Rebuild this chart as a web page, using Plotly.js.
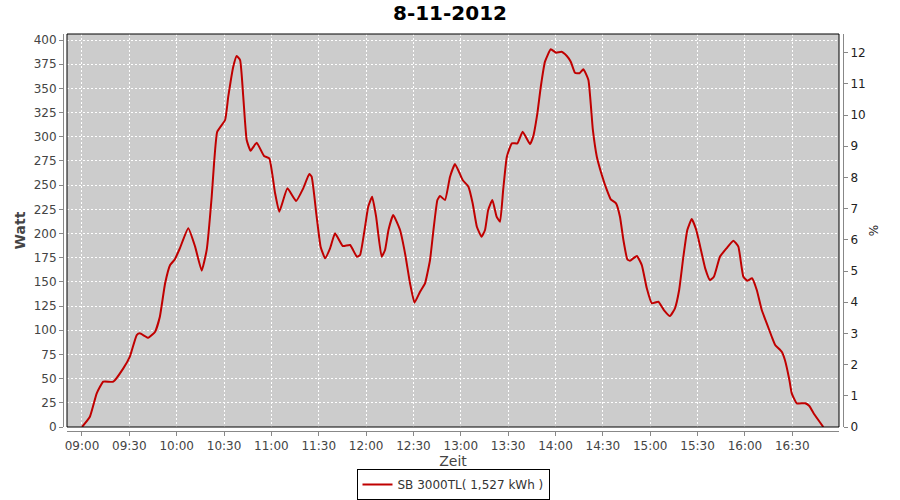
<!DOCTYPE html>
<html>
<head>
<meta charset="utf-8">
<script src="https://cdn.plot.ly/plotly-3.0.1.min.js"></script>
<style>html,body{margin:0;padding:0;background:#fff;}#chart{width:900px;height:500px;}</style>
</head>
<body>
<div id="chart"></div>
<script>
const day = '2012-11-08';
const chartTitle = '8-11-2012';
const seriesName = 'SB 3000TL( 1,527 kWh )';
const times = ['09:00:00','09:05:00','09:09:20','09:13:30','09:19:50','09:26:10','09:30:20','09:34:40','09:36:40','09:42:00',
'09:46:20','09:49:20','09:52:40','09:55:50','09:58:50','10:02:00','10:07:20','10:11:40','10:15:50','10:19:00',
'10:22:10','10:23:40','10:25:40','10:30:40','10:32:40','10:35:50','10:38:00','10:40:10','10:42:10','10:44:20',
'10:46:50','10:50:40','10:55:20','10:58:40','11:02:20','11:05:00','11:10:10','11:15:40','11:20:10','11:24:00',
'11:25:30','11:28:40','11:31:10','11:34:00','11:37:10','11:40:20','11:45:10','11:49:50','11:54:10','11:56:10',
'11:59:20','12:01:20','12:03:50','12:06:20','12:09:50','12:12:00','12:14:10','12:17:10','12:21:30','12:24:40',
'12:27:50','12:30:40','12:34:10','12:37:20','12:40:30','12:42:40','12:45:10','12:46:50','12:50:00','12:53:10',
'12:56:20','13:01:10','13:04:50','13:07:30','13:10:10','13:13:10','13:15:20','13:17:20','13:20:00','13:22:40',
'13:24:50','13:26:50','13:29:10','13:32:20','13:35:50','13:39:10','13:43:50','13:45:50','13:48:30','13:50:40',
'13:53:20','13:57:00','14:00:20','14:03:50','14:07:10','14:09:40','14:12:20','14:15:10','14:17:40','14:20:50',
'14:23:40','14:26:10','14:29:20','14:32:30','14:35:00','14:38:20','14:40:50','14:43:00','14:45:30','14:47:10',
'14:51:30','14:54:40','14:57:50','15:01:00','15:05:10','15:08:40','15:12:30','15:15:40','15:18:20','15:21:00',
'15:23:30','15:26:20','15:29:10','15:31:40','15:34:50','15:37:50','15:40:20','15:44:10','15:48:20','15:52:40',
'15:55:50','15:59:00','16:01:30','16:04:30','16:07:30','16:10:40','16:13:50','16:17:00','16:19:10','16:23:20',
'16:25:20','16:28:10','16:29:40','16:32:50','16:38:10','16:40:50','16:43:20','16:46:30','16:49:40'];
const watt = [0,10.6,34.8,46.8,46.8,60.6,72.7,95,96.8,92.3,
98.5,114,148.5,167.4,173.3,184.7,205.4,186.4,161.6,183,
238,272.6,305.2,317.3,341.4,372.4,383.5,379.3,341.4,296.6,
285.6,293.9,280.1,277.7,241.6,222.5,246.7,233.6,246.7,261.5,
258.7,217.4,186.4,174.4,184.7,200.2,187.1,188.1,176,177.8,
207,227.7,238,217.4,176,183,203.6,219.1,203.6,179.5,
148.5,128.5,139.8,148.5,172.6,203.6,234.6,238.8,234.6,258.7,
271.8,255.3,248.4,231.2,207,196.7,203.6,224.3,234.6,217.4,
212.2,245,279.4,293.2,293.2,305.2,292.5,300.1,324.2,351.7,
377.6,390.4,386.9,387.9,383.5,377.6,366.2,365.6,369.7,358.7,
307,279.4,260.5,245,235.3,231.2,217.4,193.3,173.3,171.9,
176.7,167.4,143.4,127.9,129.5,120.9,114.7,122.7,141.6,176,
203.6,215,203.6,186.4,164,151.9,155.3,176,184.7,192.6,
186.4,155.3,151.2,153.7,141.6,120.9,107.2,93.3,84.8,77.8,
69.3,48.6,34.8,24.5,24.5,21.7,14.8,7.2,0];

const xs = times.map(t => day + ' ' + t);
const font = 'DejaVu Sans, Verdana, sans-serif';
const xDom = [4/780, 776/780];
const yDom = [4/397, 1];

const traces = [
  {x: xs, y: watt, type: 'scatter', mode: 'lines', name: seriesName,
   line: {color: '#c00000', width: 2, shape: 'spline', smoothing: 0.4}, xaxis: 'x', yaxis: 'y'},
  {x: xs, y: watt.map(() => null), type: 'scatter', mode: 'lines', showlegend: false,
   hoverinfo: 'skip', xaxis: 'x', yaxis: 'y2', line: {width: 0}}
];

const layout = {
  width: 900, height: 500,
  margin: {l: 63, r: 57, t: 34, b: 69, autoexpand: false},
  paper_bgcolor: '#ffffff',
  plot_bgcolor: '#cccccc',
  font: {family: font, size: 12, color: '#444'},
  title: {text: '<b>' + chartTitle + '</b>', font: {family: font, size: 20, color: '#000'},
          x: 0.5, xanchor: 'center', y: 0.975, yanchor: 'middle'},
  showlegend: true,
  legend: {orientation: 'h', x: 0.5, xanchor: 'center', y: -0.1735, yanchor: 'bottom',
           bordercolor: '#000', borderwidth: 1, bgcolor: '#fff',
           font: {family: font, size: 12, color: '#333'}, itemwidth: 30},
  xaxis: {
    type: 'date', domain: xDom, anchor: 'free', position: 0, automargin: false,
    range: [day + ' 08:50:30', day + ' 16:59:36'],
    tick0: day + ' 09:00:00', dtick: 30 * 60 * 1000, tickformat: '%H:%M',
    showgrid: true, gridcolor: '#ffffff', griddash: '2px,2px', gridwidth: 1,
    showline: true, linecolor: '#888', linewidth: 1,
    ticks: 'outside', ticklen: 4, tickcolor: '#888',
    tickfont: {family: font, size: 12, color: '#444'},
    title: {text: 'Zeit', font: {family: font, size: 14, color: '#444'}, standoff: 0},
    zeroline: false
  },
  yaxis: {
    domain: yDom, anchor: 'free', position: 0, automargin: false,
    range: [0, 406.2], dtick: 25, tick0: 0,
    showgrid: true, gridcolor: '#ffffff', griddash: '2px,2px', gridwidth: 1,
    showline: true, linecolor: '#888', linewidth: 1,
    ticks: 'outside', ticklen: 4, tickcolor: '#888',
    tickfont: {family: font, size: 12, color: '#444'},
    title: {text: '<b>Watt</b>', font: {family: font, size: 14, color: '#444'}, standoff: 3},
    zeroline: false
  },
  yaxis2: {
    overlaying: 'y', side: 'right', anchor: 'free', position: 1, automargin: false,
    range: [0, 12.6], dtick: 1, tick0: 0,
    showgrid: false, zeroline: false,
    showline: true, linecolor: '#888', linewidth: 1,
    ticks: 'outside', ticklen: 4, tickcolor: '#888',
    tickfont: {family: font, size: 12, color: '#222'},
    title: {text: '%', font: {family: font, size: 12, color: '#222'}, standoff: 4}
  },
  shapes: [
    {type: 'rect', xref: 'paper', yref: 'paper', x0: xDom[0], x1: xDom[1], y0: yDom[0], y1: 1,
     line: {color: '#000', width: 1}, fillcolor: 'rgba(0,0,0,0)', layer: 'above'}
  ]
};

Plotly.newPlot('chart', traces, layout, {displayModeBar: false, staticPlot: true});
</script>
</body>
</html>
